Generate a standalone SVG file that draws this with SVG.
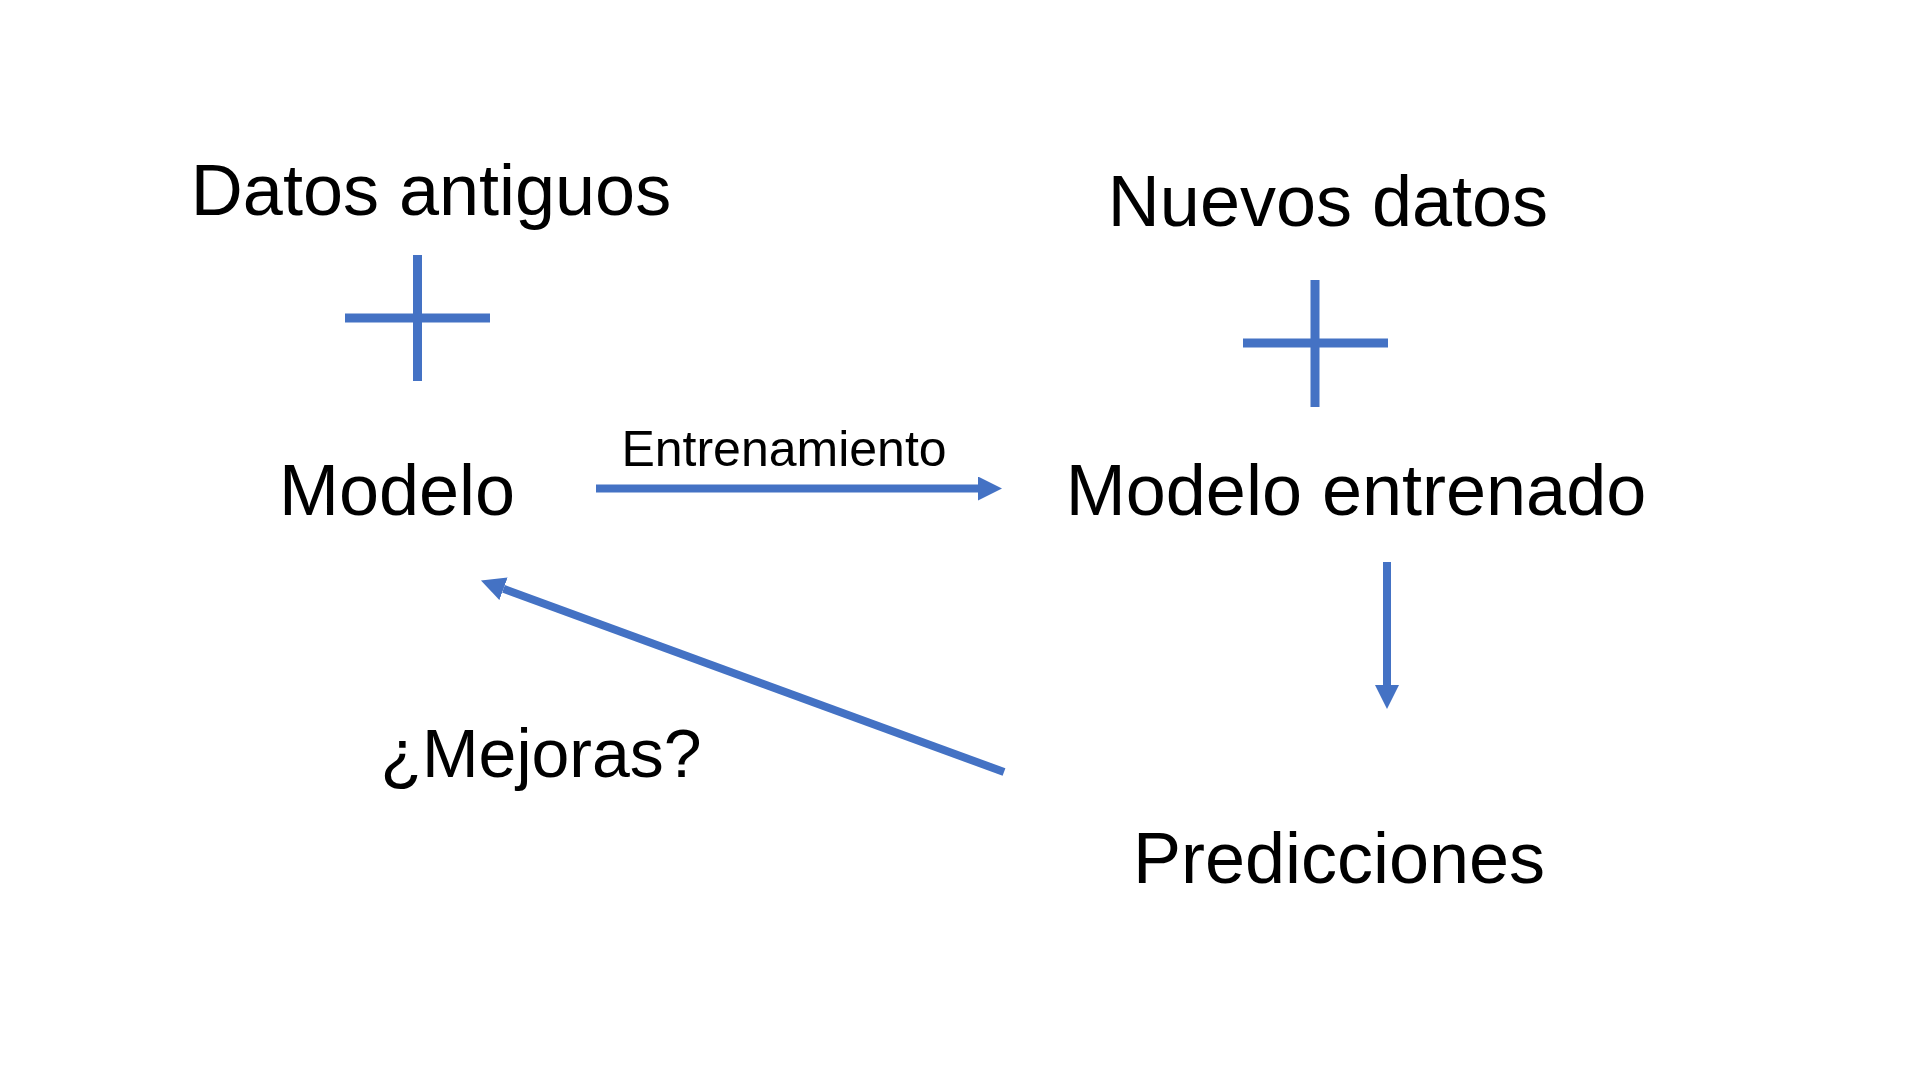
<svg xmlns="http://www.w3.org/2000/svg" width="1920" height="1080" viewBox="0 0 1920 1080">
<style>
.t{font-family:"Liberation Sans",Arial,sans-serif;fill:#000;text-anchor:middle}
.big{font-size:72px}
.mid{font-size:68px}
.small{font-size:50px}
.plus{stroke:#4472C4;stroke-width:9;fill:none}
.conn{stroke:#4472C4;stroke-width:8;fill:none}
</style>
<defs>
<marker id="ah" markerUnits="userSpaceOnUse" markerWidth="24" markerHeight="24" viewBox="0 0 24 24" refX="0" refY="12" orient="auto">
<path d="M0,0 L24,12 L0,24 z" fill="#4472C4"/>
</marker>
</defs>
<rect width="1920" height="1080" fill="#fff"/>
<g id="datos-antiguos">
<text class="t big" x="431" y="215">Datos antiguos</text>
</g>
<g id="plus-1">
<line class="plus" x1="417.5" y1="255" x2="417.5" y2="381"/>
<line class="plus" x1="345" y1="318" x2="490" y2="318"/>
</g>
<g id="nuevos-datos">
<text class="t big" x="1328" y="226">Nuevos datos</text>
</g>
<g id="plus-2">
<line class="plus" x1="1315" y1="280" x2="1315" y2="407"/>
<line class="plus" x1="1243" y1="343" x2="1388" y2="343"/>
</g>
<g id="modelo">
<text class="t big" x="397" y="515">Modelo</text>
</g>
<g id="modelo-entrenado">
<text class="t big" x="1356" y="515">Modelo entrenado</text>
</g>
<g id="predicciones">
<text class="t big" x="1339" y="883">Predicciones</text>
</g>
<g id="mejoras">
<text class="t mid" x="541" y="777">¿Mejoras?</text>
</g>
<g id="connectors">
<line class="conn" x1="596" y1="488.5" x2="978" y2="488.5" marker-end="url(#ah)"/>
<text class="t small" x="784" y="466">Entrenamiento</text>
<line class="conn" x1="1387" y1="562" x2="1387" y2="685" marker-end="url(#ah)"/>
<line class="conn" x1="1004" y1="772" x2="503.5" y2="588.8" marker-end="url(#ah)"/>
</g>
</svg>
